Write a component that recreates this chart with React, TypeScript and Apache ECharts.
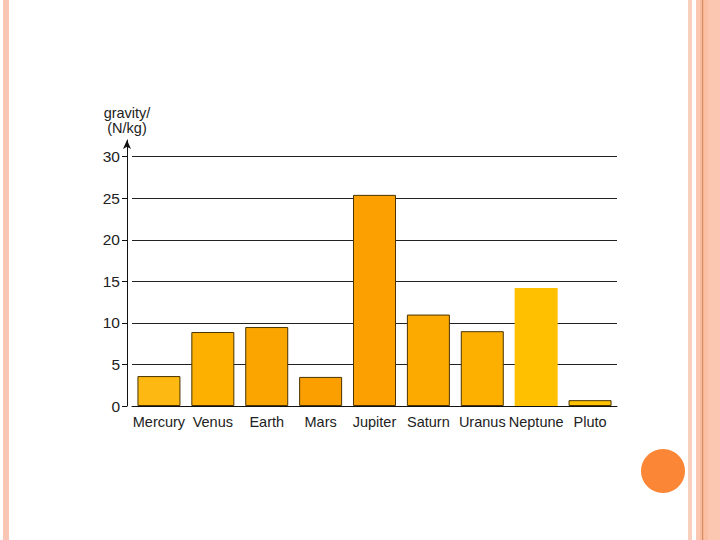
import React, { useEffect, useRef } from "react";
import * as echarts from "echarts";

const categories = ["Mercury", "Venus", "Earth", "Mars", "Jupiter", "Saturn", "Uranus", "Neptune", "Pluto"];
const gravity = [3.6, 8.9, 9.5, 3.5, 25.4, 11.0, 9.0, 14.2, 0.7];
const barColors = ["#FDB912", "#FDB000", "#FBA600", "#FB9E00", "#FC9F00", "#FCA900", "#FDB000", "#FFC000", "#FEC300"];
const yTicks = [0, 5, 10, 15, 20, 25, 30];

export default function App() {
  const ref = useRef<HTMLDivElement>(null);
  useEffect(() => {
    if (!ref.current) return;
    const chart = echarts.init(ref.current, null, { renderer: "svg" });
    const font = "Liberation Sans, Arial, sans-serif";
    chart.setOption({
      animation: false,
      backgroundColor: "#FFFFFF",
      grid: { left: 132, right: 103, top: 140, bottom: 134 },
      xAxis: {
        type: "category",
        data: categories,
        axisLine: { show: true, lineStyle: { color: "#111", width: 1 } },
        axisTick: { show: false },
        axisLabel: { color: "#222", fontSize: 14.5, fontFamily: font, margin: 8, interval: 0 },
      },
      yAxis: {
        type: "value",
        min: 0,
        max: 32,
        interval: 5,
        offset: 5,
        name: "gravity/\n(N/kg)",
        nameLocation: "end",
        nameGap: 5,
        nameTextStyle: { color: "#222", fontSize: 14.5, fontFamily: font, lineHeight: 15, align: "center" },
        axisLine: {
          show: true,
          symbol: ["none", "arrow"],
          symbolSize: [6, 9],
          lineStyle: { color: "#111", width: 1 },
        },
        axisTick: { show: true, length: 5, customValues: yTicks, lineStyle: { color: "#111" } },
        axisLabel: { color: "#222", fontSize: 15.5, fontFamily: font, margin: 7, customValues: yTicks },
        splitLine: { show: true, lineStyle: { color: "#222", width: 1 } },
      },
      series: [
        {
          type: "bar",
          barWidth: 43,
          data: gravity.map((v, i) => ({
            value: v,
            itemStyle:
              categories[i] === "Neptune"
                ? { color: barColors[i], borderColor: barColors[i], borderWidth: 4 }
                : { color: barColors[i], borderColor: "#4A3300", borderWidth: 1 },
          })),
        },
      ],
      graphic: [
        { type: "rect", shape: { x: 3, y: 0, width: 6, height: 540 }, style: { fill: "#F8C6B2" }, silent: true },
        { type: "rect", shape: { x: 688, y: 0, width: 4, height: 540 }, style: { fill: "#F9D0BE" }, silent: true },
        { type: "rect", shape: { x: 696, y: 0, width: 24, height: 540 }, style: { fill: "#FBC7B1" }, silent: true },
        { type: "rect", shape: { x: 700, y: 0, width: 2, height: 540 }, style: { fill: "#F7BBA0" }, silent: true },
        { type: "rect", shape: { x: 702, y: 0, width: 1.5, height: 540 }, style: { fill: "#D98A5E" }, silent: true },
        { type: "rect", shape: { x: 703.5, y: 0, width: 4.5, height: 540 }, style: { fill: "#FBBFA4" }, silent: true },
        { type: "circle", shape: { cx: 663, cy: 471, r: 22 }, style: { fill: "#FA8636" }, silent: true },
      ],
    });
    return () => chart.dispose();
  }, []);
  return <div ref={ref} style={{ position: "absolute", left: 0, top: 0, width: 720, height: 540 }} />;
}
